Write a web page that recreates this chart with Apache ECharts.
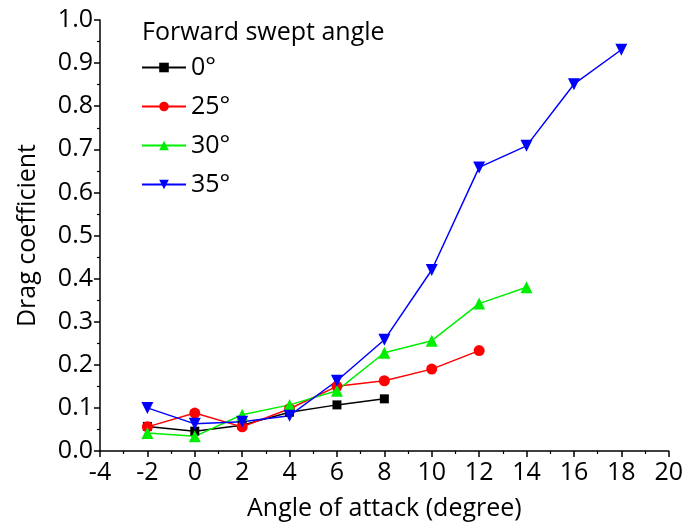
<!DOCTYPE html>
<html>
<head>
<meta charset="utf-8">
<script src="https://cdn.jsdelivr.net/npm/echarts@6/dist/echarts.min.js"></script>
<style>
html,body{margin:0;padding:0;background:#fff}
#chart{width:686px;height:526px}
</style>
</head>
<body>
<div id="chart"></div>
<script>
// angle of attack (degree) and drag coefficient per forward swept angle
var aoa0=[-2,0,2,4,6,8]
var cd0=[0.057,0.046,0.060,0.090,0.107,0.121]
var aoa25=[-2,0,2,4,6,8,10,12]
var cd25=[0.056,0.088,0.056,0.098,0.150,0.163,0.190,0.233]
var aoa30=[-2,0,2,4,6,8,10,12,14]
var cd30=[0.042,0.034,0.084,0.107,0.140,0.228,0.256,0.342,0.380]
var aoa35=[-2,0,2,4,6,8,10,12,14,16,18]
var cd35=[0.100,0.063,0.068,0.082,0.163,0.258,0.420,0.658,0.708,0.851,0.931]
var names=['0°','25°','30°','35°']

function pairs(x,y){
	var d=[]
	for(var i=0;i<x.length;i++){d.push([x[i],y[i]])}
	return d
}

var font='"Open Sans", "Liberation Sans", sans-serif'
var fs=25
var mychart=echarts.init(document.getElementById('chart'));

function line(name,x,y,color,symbol,size,rot){
	return {
		name:name,
		type:'line',
		data:pairs(x,y),
		symbol:symbol,
		symbolSize:size,
		symbolRotate:rot||0,
		showAllSymbol:true,
		lineStyle:{color:color,width:1.5},
		itemStyle:{color:color},
		animation:false
	}
}

var option={
	backgroundColor:'#fff',
	title:{
		text:'Forward swept angle',
		left:137,top:15,
		textStyle:{fontFamily:font,fontSize:fs,fontWeight:'normal',color:'#000'}
	},
	legend:{
		data:names,
		orient:'vertical',
		left:136,top:50,
		itemWidth:44,itemHeight:12,itemGap:14,
		textStyle:{fontFamily:font,fontSize:fs,color:'#000'}
	},
	grid:{left:100,right:14,top:20,bottom:75,containLabel:false},
	xAxis:{
		type:'value',min:-4,max:20,interval:2,
		name:'Angle of attack (degree)',
		nameLocation:'middle',nameGap:45,
		nameTextStyle:{fontFamily:font,fontSize:fs,color:'#000'},
		axisLine:{onZero:false,lineStyle:{color:'#000',width:1.5}},
		axisTick:{show:true,length:6,lineStyle:{color:'#000',width:1.5}},
		minorTick:{show:true,splitNumber:2,length:3,lineStyle:{color:'#000',width:1.2}},
		axisLabel:{fontFamily:font,fontSize:fs,color:'#000',margin:9},
		splitLine:{show:false}
	},
	yAxis:{
		type:'value',min:0,max:1,interval:0.1,
		name:'Drag coefficient',
		nameLocation:'middle',nameGap:60,
		nameTextStyle:{fontFamily:font,fontSize:fs,color:'#000'},
		axisLine:{show:true,onZero:false,lineStyle:{color:'#000',width:1.5}},
		axisTick:{show:true,length:6,lineStyle:{color:'#000',width:1.5}},
		minorTick:{show:true,splitNumber:2,length:3,lineStyle:{color:'#000',width:1.2}},
		axisLabel:{fontFamily:font,fontSize:fs,color:'#000',margin:7,
			formatter:function(v){return v.toFixed(1)}},
		splitLine:{show:false}
	},
	series:[
		line(names[0],aoa0,cd0,'#000000','rect',9),
		line(names[1],aoa25,cd25,'#ff0000','circle',11),
		line(names[2],aoa30,cd30,'#00ee00','triangle',12),
		line(names[3],aoa35,cd35,'#0000ff','triangle',12,180)
	]
};
mychart.setOption(option);
</script>
</body>
</html>
